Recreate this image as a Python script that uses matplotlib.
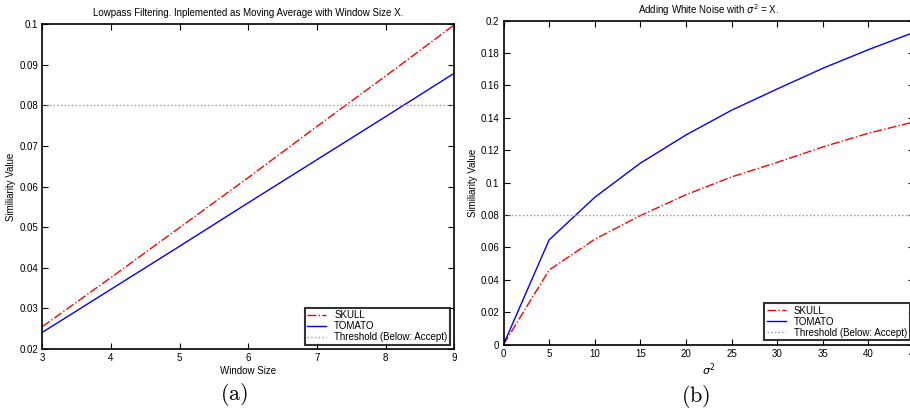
import matplotlib
matplotlib.use('Agg')
import matplotlib.pyplot as plt

plt.rcParams['font.family'] = ['Liberation Sans', 'DejaVu Sans']
plt.rcParams['mathtext.fontset'] = 'cm'

# (a) lowpass filtering
window_size = [3, 4, 5, 6, 7, 8, 9]
skull_lp = [0.0255, 0.0376, 0.0499, 0.0622, 0.0748, 0.0872, 0.0998]
tomato_lp = [0.0241, 0.0347, 0.0453, 0.0560, 0.0666, 0.0772, 0.0879]
ticks_lp_y = [0.02, 0.03, 0.04, 0.05, 0.06, 0.07, 0.08, 0.09, 0.1]
labels_lp_y = ['0.02', '0.03', '0.04', '0.05', '0.06', '0.07', '0.08', '0.09', '0.1']

# (b) white noise
sigma2 = [0, 5, 10, 15, 20, 25, 30, 35, 40, 45]
skull_wn = [0, 0.046, 0.065, 0.0796, 0.0925, 0.1035, 0.1125, 0.122, 0.1305, 0.1375]
tomato_wn = [0, 0.0646, 0.0909, 0.112, 0.1294, 0.1447, 0.1578, 0.1706, 0.1821, 0.1928]
ticks_wn_y = [0, 0.02, 0.04, 0.06, 0.08, 0.1, 0.12, 0.14, 0.16, 0.18, 0.2]
labels_wn_y = ['0', '0.02', '0.04', '0.06', '0.08', '0.1', '0.12', '0.14', '0.16', '0.18', '0.2']

threshold = 0.08

fig = plt.figure(figsize=(9.10, 4.12), dpi=100)
ax1 = fig.add_axes([0.0465, 0.1529, 0.4527, 0.7888])
ax2 = fig.add_axes([0.5533, 0.1638, 0.4511, 0.7860])


def style_axes(ax):
    ax.tick_params(direction='in', top=True, right=True, length=4, width=0.8,
                   labelsize=7, pad=3)
    for s in ax.spines.values():
        s.set_linewidth(1.2)


# Vẽ (a)
ax1.plot(window_size, skull_lp, color='red', linestyle='-.', linewidth=1, label='SKULL')
ax1.plot(window_size, tomato_lp, color='blue', linestyle='-', linewidth=1, label='TOMATO')
ax1.axhline(threshold, color='#999999', linestyle=':', linewidth=1, label='Threshold (Below: Accept)')
ax1.set_xlim(3, 9)
ax1.set_ylim(0.02, 0.1)
ax1.set_yticks(ticks_lp_y)
ax1.set_yticklabels(labels_lp_y)
ax1.set_xticks(window_size)
ax1.set_title('Lowpass Filtering. Inplemented as Moving Average with Window Size X.', fontsize=7, pad=6)
ax1.set_xlabel('Window Size', fontsize=7, labelpad=2)
ax1.set_ylabel('Similiarity Value', fontsize=7, labelpad=2)
style_axes(ax1)

# Vẽ (b)
ax2.plot(sigma2, skull_wn, color='red', linestyle='-.', linewidth=1, label='SKULL')
ax2.plot(sigma2, tomato_wn, color='blue', linestyle='-', linewidth=1, label='TOMATO')
ax2.axhline(threshold, color='#999999', linestyle=':', linewidth=1, label='Threshold (Below: Accept)')
ax2.set_xlim(0, 45)
ax2.set_ylim(0, 0.2)
ax2.set_yticks(ticks_wn_y)
ax2.set_yticklabels(labels_wn_y)
ax2.set_xticks(sigma2)
ax2.set_title(r'Adding White Noise with $\sigma^2$ = X.', fontsize=7, pad=5,
              math_fontfamily='dejavusans')
ax2.set_xlabel(r'$\sigma^2$', fontsize=8, labelpad=2, math_fontfamily='dejavusans')
ax2.set_ylabel('Similiarity Value', fontsize=7, labelpad=2)
style_axes(ax2)

for ax in (ax1, ax2):
    leg = ax.legend(loc='lower right', fontsize=7, frameon=True, fancybox=False,
                    handlelength=2.0, handletextpad=0.8, labelspacing=0.1,
                    borderpad=0.25, borderaxespad=0.45)
    leg.get_frame().set_edgecolor('black')
    leg.get_frame().set_linewidth(1.5)

fig.text(234 / 910, 1 - 395 / 412, r'$\mathrm{(a)}$', fontsize=16, ha='center', va='center')
fig.text(696 / 910, 1 - 397 / 412, r'$\mathrm{(b)}$', fontsize=16, ha='center', va='center')

fig.savefig('out.png', dpi=100)
